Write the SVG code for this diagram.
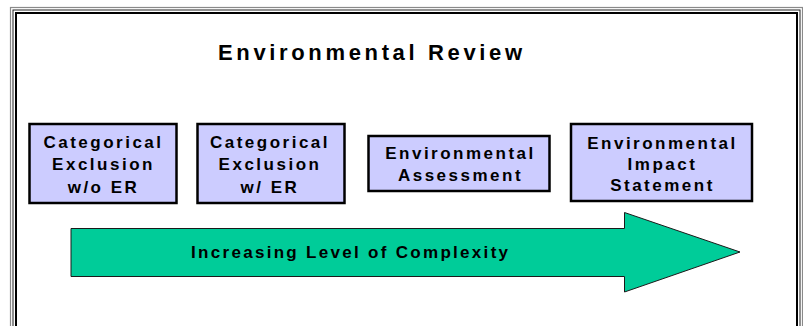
<svg xmlns="http://www.w3.org/2000/svg" width="803" height="326" viewBox="0 0 803 326">
  <style>
    .frame { fill: none; }
    .box { fill: #CCCCFF; stroke: #000; stroke-width: 2.5; }
    .lbl { font-family: "Liberation Sans", Arial, sans-serif; font-weight: bold; font-size: 17px; letter-spacing: 2.5px; fill: #000; text-anchor: middle; }
    .title { font-family: "Liberation Sans", Arial, sans-serif; font-weight: bold; font-size: 22px; letter-spacing: 3.65px; fill: #000; }
    .arrow { fill: #00CC99; stroke: #1a1a1a; stroke-width: 1; }
    .alabel { font-family: "Liberation Sans", Arial, sans-serif; font-weight: bold; font-size: 17px; letter-spacing: 2.3px; fill: #000; }
  </style>
  <rect width="803" height="326" fill="#fff"/>
  <g id="frame">
    <rect class="frame" x="10.5" y="7.5" width="792" height="400" stroke="#8a8a8a" stroke-width="1.2"/>
    <rect class="frame" x="13" y="10" width="787" height="395" stroke="#222" stroke-width="1"/>
    <rect class="frame" x="16" y="13" width="781" height="390" stroke="#000" stroke-width="2"/>
  </g>
  <g id="title">
    <text class="title" x="218" y="59.5">Environmental Review</text>
  </g>
  <g id="node-cat-wo-er">
    <rect class="box" x="29.5" y="124" width="147" height="79"/>
    <text class="lbl" x="103.5" y="148">Categorical</text>
    <text class="lbl" x="103.5" y="170">Exclusion</text>
    <text class="lbl" x="103.5" y="192.5">w/o ER</text>
  </g>
  <g id="node-cat-w-er">
    <rect class="box" x="197.5" y="124" width="147" height="79"/>
    <text class="lbl" x="270" y="148">Categorical</text>
    <text class="lbl" x="270" y="170">Exclusion</text>
    <text class="lbl" x="270" y="192.5">w/ ER</text>
  </g>
  <g id="node-ea">
    <rect class="box" x="368.5" y="136" width="181" height="55"/>
    <text class="lbl" x="460.5" y="159">Environmental</text>
    <text class="lbl" x="460.5" y="181">Assessment</text>
  </g>
  <g id="node-eis">
    <rect class="box" x="571" y="124" width="181" height="77"/>
    <text class="lbl" x="662.5" y="148.5">Environmental</text>
    <text class="lbl" x="662.5" y="169.5">Impact</text>
    <text class="lbl" x="662.5" y="190.5">Statement</text>
  </g>
  <g id="connectors">
    <polygon class="arrow" points="71,228.5 624.5,228.5 624.5,212.5 740,252 624.5,292 624.5,276.5 71,276.5"/>
    <text class="alabel" x="191" y="257.5">Increasing Level of Complexity</text>
  </g>
</svg>
